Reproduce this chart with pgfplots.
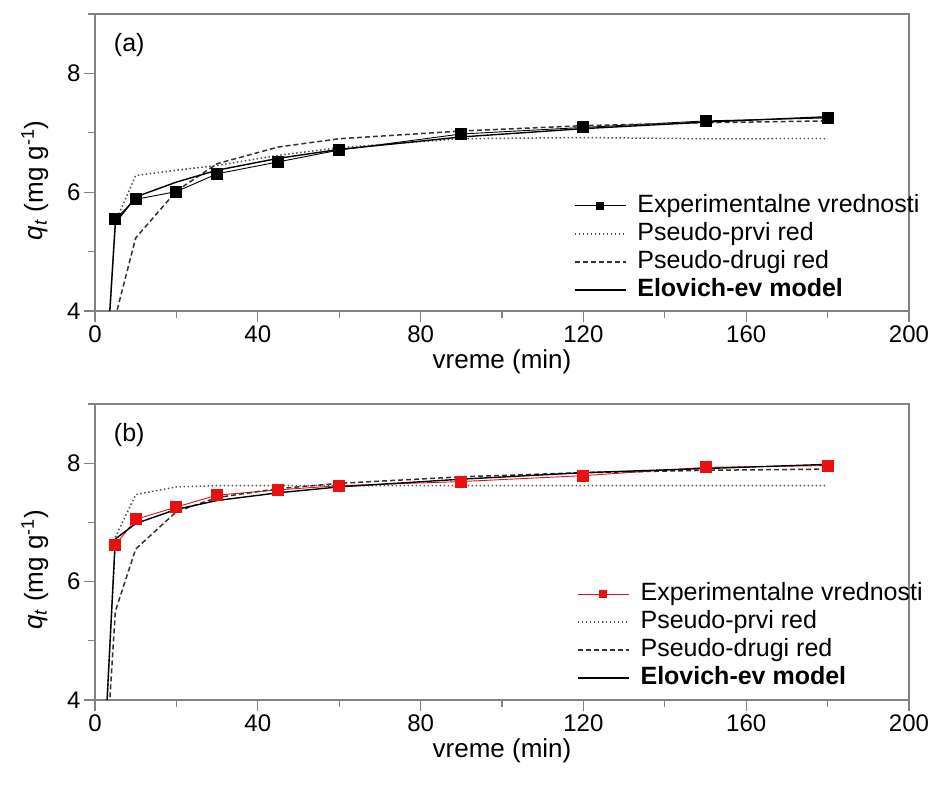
\documentclass[border=0pt]{standalone}
\usepackage{fontspec}
\setmainfont{Liberation Sans}
\usepackage{pgfplots}
\pgfplotsset{compat=1.18}

\definecolor{framegray}{RGB}{130,130,130}
\definecolor{expred}{RGB}{232,16,16}
\definecolor{dotgray}{RGB}{80,80,80}
\definecolor{dashgray}{RGB}{50,50,50}

\pgfplotsset{
  kinetika/.style={
    scale only axis, width=814pt, height=297pt,
    xmin=0, xmax=200, ymin=4, ymax=9,
    xtick={0,40,...,200}, minor xtick={20,60,...,180},
    ytick={4,6,8}, minor ytick={5,7,9},
    axis line style={framegray, line width=1.3pt},
    every tick/.style={framegray, line width=1.3pt},
    major tick length=11pt, minor tick length=7pt,
    tick align=outside, xtick pos=bottom, ytick pos=left,
    /pgf/number format/assume math mode=true,
    ticklabel style={font=\fontsize{24}{28}\selectfont},
    label style={font=\fontsize{26}{30}\selectfont},
    xlabel={vreme (min)},
    ylabel={\textit{q}\textsubscript{\textit{t}} (mg g\textsuperscript{-1})},
    ylabel style={at={(ticklabel cs:0.44,12pt)}},
    legend cell align=left,
    legend style={draw=none, fill=none, inner sep=0pt,
      font=\fontsize{25}{28}\selectfont, row sep=1pt,
      nodes={inner ysep=2pt, text height=18pt, text depth=5pt},
      /tikz/every odd column/.append style={column sep=9pt},
      anchor=north west},
    legend image code/.code={%
      \draw[mark repeat=2, mark phase=2, #1]
        plot coordinates {(0pt,0pt) (25.5pt,0pt) (51pt,0pt)};},
    legend image post style={mark size=3.5pt},
  },
  eksp/.style={line width=0.9pt, mark=square*, mark size=5.5pt},
  prvi/.style={dotgray, line width=1.5pt, dash pattern=on 1.5pt off 2.5pt},
  drugi/.style={dashgray, line width=1.5pt, dash pattern=on 5pt off 3pt},
  elovich/.style={black, line width=1.4pt},
}

\begin{document}
\begin{tikzpicture}
\path (-95pt,-92pt) rectangle (838pt,700pt);

% (a)
\begin{axis}[kinetika, at={(0pt,389pt)},
  legend style={at={(rel axis cs:0.588,0.400)}}]
\addplot[eksp, black, mark options={fill=black}] coordinates {
  (5,5.55) (10,5.88) (20,6.01) (30,6.31) (45,6.51) (60,6.71)
  (90,6.98) (120,7.09) (150,7.20) (180,7.25)};
\addlegendentry{Experimentalne vrednosti}
\addplot[prvi] coordinates {
  (0,0) (5,5.50) (10,6.28) (20,6.37) (30,6.45) (45,6.62) (60,6.75)
  (90,6.90) (120,6.92) (150,6.90) (180,6.90)};
\addlegendentry{Pseudo-prvi red}
\addplot[drugi] coordinates {
  (0,0) (5,3.90) (10,5.23) (20,6.02) (30,6.48) (45,6.76) (60,6.90)
  (90,7.03) (120,7.12) (150,7.17) (180,7.20)};
\addlegendentry{Pseudo-drugi red}
\addplot[elovich] coordinates {
  (0,0) (5,5.48) (10,5.92) (20,6.17) (30,6.37) (45,6.57) (60,6.72)
  (90,6.93) (120,7.07) (150,7.18) (180,7.27)};
\addlegendentry{\textbf{Elovich-ev model}}
\node[anchor=west, font=\fontsize{25}{28}\selectfont] at (rel axis cs:0.019,0.896) {(a)};
\end{axis}

% (b)
\begin{axis}[kinetika, at={(0pt,0pt)}, height=296pt,
  legend style={at={(rel axis cs:0.592,0.404)}}]
\addplot[eksp, expred, mark options={fill=expred}] coordinates {
  (5,6.62) (10,7.05) (20,7.26) (30,7.46) (45,7.55) (60,7.62)
  (90,7.69) (120,7.79) (150,7.93) (180,7.96)};
\addlegendentry{Experimentalne vrednosti}
\addplot[prvi] coordinates {
  (0,0) (5,6.75) (10,7.47) (20,7.60) (30,7.62) (45,7.62) (60,7.62)
  (90,7.62) (120,7.62) (150,7.62) (180,7.62)};
\addlegendentry{Pseudo-prvi red}
\addplot[drugi] coordinates {
  (0,0) (5,5.50) (10,6.55) (20,7.18) (30,7.42) (45,7.57) (60,7.66)
  (90,7.77) (120,7.84) (150,7.88) (180,7.90)};
\addlegendentry{Pseudo-drugi red}
\addplot[elovich] coordinates {
  (0,0) (5,6.72) (10,6.98) (20,7.22) (30,7.37) (45,7.50) (60,7.60)
  (90,7.73) (120,7.84) (150,7.91) (180,7.98)};
\addlegendentry{\textbf{Elovich-ev model}}
\node[anchor=west, font=\fontsize{25}{28}\selectfont] at (rel axis cs:0.019,0.895) {(b)};
\end{axis}
\end{tikzpicture}
\end{document}
